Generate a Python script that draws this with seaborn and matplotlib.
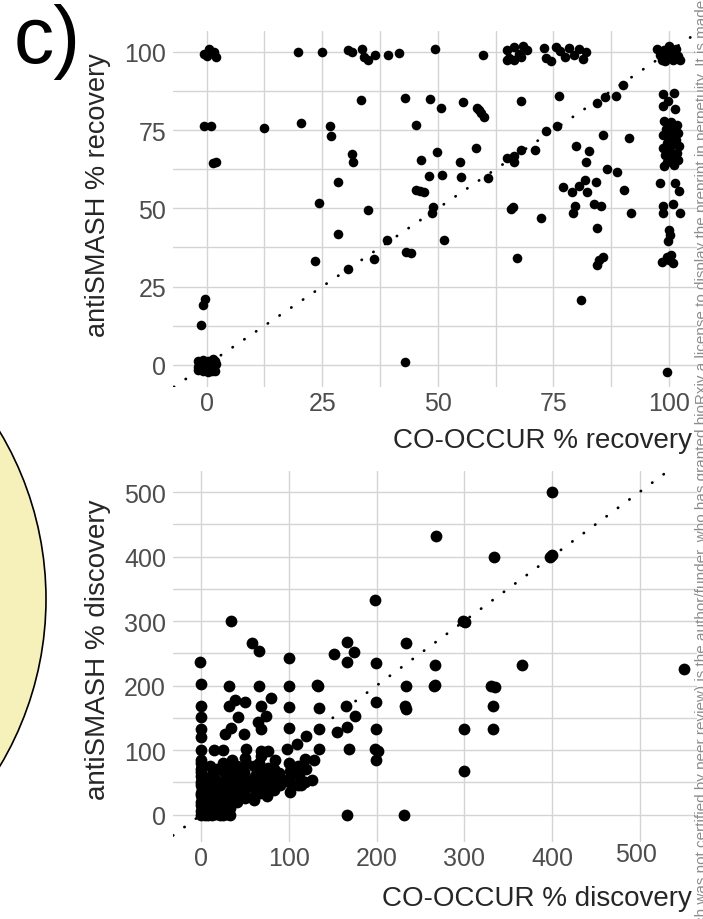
import matplotlib
matplotlib.use("Agg")
import matplotlib.pyplot as plt
from matplotlib.patches import Ellipse
from matplotlib.ticker import FixedLocator
from matplotlib.transforms import ScaledTranslation
import pandas as pd
import seaborn as sns

# ---------------- data ----------------
# recovery (%): CO-OCCUR vs antiSMASH
rec_cooccur = [
    -0.5, 0.5, 1.5, 2.0, 0.0, 19.7, 24.9, 30.6, 31.5, 33.5, 35.0, 36.5, 34.0,
    39.3, 41.7, 49.3, 59.7,
    65.0, 65.5, 66.5, 67.5, 68.5, 66.5, 68.0, 69.3, 65.0,
    73.0, 73.5, 74.5, 75.5, 76.5, 77.5, 78.5, 79.5, 80.5, 81.5, 82.0,
    97.5, 98.0, 98.5, 99.0, 99.5, 100.0, 100.5, 101.0, 101.5, 102.0, 102.5, 99.2, 100.8,
    33.3, 43.0, 48.3, 50.7, 55.5, 58.5, 59.3, 60.0, 59.0, 45.3, 68.0, 76.3, 84.5, 86.2, 88.6, 90.0,
    98.8, 101.1, 99.9, 98.8, 101.4,
    -0.6, 1.0, 12.3, 20.4, 26.7, 26.9, 1.4, 2.0, 28.4, 31.4, 31.7,
    75.8, 73.4, 71.0, 68.0, 66.4, 64.9, 66.4, 79.9, 82.8, 82.1, 85.8, 91.3,
    46.3, 49.9, 54.8, 58.3, 48.2, 50.9, 55.0, 60.9, 45.3, 47.0, 46.2,
    86.6, 88.7, 77.2, 79.0, 80.6, 81.9, 82.4, 84.3, 90.4, 98.1, 101.4, 102.1,
    99.0, 100.5, 101.8, 99.3, 100.8, 102.0, 98.8, 100.2, 101.5, 99.5, 101.0, 102.2,
    98.7, 100.3, 101.7, 99.2, 100.7, 102.0, 99.6, 101.2, 98.9, 100.1, 101.3, 99.8,
    24.3, 34.8, 49.0, 48.7, 66.2, 65.8, 72.3, 79.6, 79.2, 83.8, 85.3, 91.8, 84.5,
    98.7, 98.7, 100.8, 102.4, 100.0, 100.2, 99.9,
    28.5, 39.0, 51.4, 23.4, 36.1, 30.6, 43.2, 44.2, 67.2, 84.5, 84.9, 85.7,
    98.5, 99.5, 100.5, 101.0, 100.0, 81.0,
    -0.3, -0.9, -1.3, 43.0, 99.6,
    -1.8, -0.9, 0.2, 1.2, 1.8, -1.9, -0.6, 0.6, 1.6, -1.7, -0.3, 0.9, 1.9,
    -1.8, -0.8, 0.3, 1.3, 1.7, -0.1, -1.3, 0.7, 1.4,
]
rec_antismash = [
    99.5, 101.0, 100.0, 98.3, 98.8, 100.0, 100.0, 100.6, 100.0, 101.0, 97.5, 99.0, 98.5,
    99.0, 99.8, 100.9, 98.9,
    100.5, 98.0, 101.5, 99.5, 101.8, 97.3, 98.3, 100.5, 97.5,
    101.2, 98.0, 97.0, 101.6, 100.2, 98.3, 101.3, 99.0, 100.8, 97.8, 100.0,
    101.0, 99.0, 97.5, 100.5, 98.3, 101.8, 99.6, 97.3, 100.8, 98.7, 97.5, 97.0, 97.8,
    84.6, 85.4, 84.9, 82.2, 84.0, 82.0, 80.5, 79.3, 81.3, 76.6, 84.3, 85.9, 83.8, 85.7, 85.9, 89.4,
    86.5, 86.8, 84.3, 82.7, 81.7,
    76.2, 76.2, 75.8, 77.2, 76.4, 73.2, 64.6, 64.8, 58.5, 67.3, 64.7,
    76.4, 74.8, 68.7, 68.7, 66.8, 66.0, 64.9, 69.8, 68.3, 64.9, 73.4, 72.5,
    65.4, 68.0, 64.7, 69.2, 60.2, 60.6, 60.1, 59.6, 55.9, 55.3, 55.6,
    62.7, 61.5, 56.7, 55.3, 57.2, 59.0, 55.3, 58.5, 55.9, 58.0, 58.0, 55.6,
    78.0, 77.5, 76.5, 75.5, 74.8, 74.0, 73.5, 72.8, 72.0, 71.0, 70.5, 69.8,
    69.3, 68.5, 67.8, 67.0, 66.3, 65.5, 64.8, 64.0, 63.5, 70.0, 75.8, 76.8,
    51.8, 49.5, 50.4, 48.6, 50.4, 49.7, 46.8, 50.8, 48.6, 51.3, 50.8, 48.6, 43.8,
    50.8, 48.6, 51.3, 48.6, 43.2, 41.4, 39.5,
    41.8, 40.0, 39.9, 33.2, 33.8, 30.6, 36.0, 35.7, 34.1, 31.9, 33.5, 34.6,
    33.0, 34.5, 35.0, 32.5, 33.5, 20.6,
    21.0, 19.0, 12.8, 1.0, -2.2,
    -1.8, -2.1, -2.2, -1.9, -2.0, -0.6, -0.8, -1.0, -0.6, 0.4, 0.2, 0.6, 0.2,
    1.3, 1.6, 1.2, 1.8, 1.3, -0.5, 0.8, -1.7, 1.0,
]

# discovery (%): CO-OCCUR vs antiSMASH
disc_cooccur = [
    400, 268, 333.6, 398, 400, 198, 298.5, 301, 33.7, 58, 66, 166.4, 174.5, 165.6, 151,
    233.4, -2, 100.2, 199.7, 266.6, 366, 551,
    0, 31, 66, 99.4, 132, 133, 233.4, 266.6, 265, 330.8, 334.8,
    -1, 31, 38.6, 50, 79, 67.8, 99.4, 134, 165, 199.7, 232.5, 234, 333,
    0, 41.8, 74, 175.7,
    -1, -1, 33.7, 26.4, 48.7, 64, 68, 99.4, 134, 155, 166.4, 199.7, 299.5, 333,
    0, 14.2, 24.4, 50.7, 67.8, 76, 97.4, 109.6, 119.7, 134, 168.4, 197.6, 201, 199.7,
    299.5, 165.6, 231.3,
    0, -1, 1, 0, -1, 1, 0, -1, 1, 0, -1, 1, 0, -1, 0, 1, -1, 0,
    4, 8, 12, 17, 21, 25, 29, 33,
    10, 9, 11, 10, 9, 11, 10,
    17, 16, 18, 17, 16, 18,
    25, 24, 26, 25, 24, 26, 25,
    33, 34, 32, 33, 34, 33, 35,
    40, 41, 39, 40, 41,
    50, 49, 51, 50, 49, 51, 50,
    60, 61, 59, 60, 61, 60,
    67, 66, 68, 67, 66, 68,
    75, 76, 74, 75, 76,
    83, 84, 82, 83, 84,
    90, 91, 89,
    101.5, 100, 99.4, 101.5, 100,
    110, 113.6, 111, 110,
    118, 119, 117.7,
    126, 128,
]
disc_antismash = [
    500, 432, 400, 400, 402, 333, 300.5, 298, 300, 266, 254, 268, 251.5, 236, 249,
    266, 236, 242, 235, 232, 232, 226,
    203, 199, 200, 200, 201, 199, 199, 201, 199, 200, 198,
    168, 168, 178, 175, 181, 168, 166, 165, 168, 175, 168, 164, 168,
    151, 151, 152.5, 152.5,
    133, 120, 134, 125, 125, 143, 133, 134, 133, 128, 135, 133, 133, 133,
    100, 100, 100, 102, 99, 99, 102, 110, 122, 102, 102, 102, 98, 85,
    68, 0, 0,
    0, 5, 10, 15, 20, 25, 30, 33, 40, 45, 50, 55, 60, 66, 70, 75, 80, 85,
    0, -1, 0, 1, -1, 0, 1, 0,
    10, 20, 30, 40, 50, 60, 75,
    15, 25, 35, 45, 55, 70,
    8, 20, 33, 42, 50, 66, 80,
    10, 22, 30, 40, 55, 72, 85,
    20, 33, 48, 60, 75,
    25, 35, 45, 55, 66, 80, 88,
    22, 30, 42, 50, 60, 75,
    33, 45, 55, 66, 80, 90,
    29, 40, 50, 62, 72,
    38, 48, 60, 70, 85,
    45, 55, 65,
    35, 50, 55, 68, 80,
    45, 45, 60, 75,
    50, 70, 86,
    53, 84,
]

rec_ticks = [0, 25, 50, 75, 100]
rec_minor = [12.5, 37.5, 62.5, 87.5]
disc_ticks = [0, 100, 200, 300, 400, 500]
disc_minor = [50, 150, 250, 350, 450]

recovery = pd.DataFrame({"CO-OCCUR % recovery": rec_cooccur,
                         "antiSMASH % recovery": rec_antismash})
discovery = pd.DataFrame({"CO-OCCUR % discovery": disc_cooccur,
                          "antiSMASH % discovery": disc_antismash})

# ---------------- style ----------------
sns.set_style("white")
plt.rcParams["font.family"] = ["Liberation Sans", "DejaVu Sans"]

W, H = 703, 920
fig = plt.figure(figsize=(W / 100, H / 100), dpi=100)
fig.patch.set_facecolor("white")

GRID = "#D4D4D4"
TICK = "#4D4D4D"


def px_axes(left, right, top, bottom):
    return fig.add_axes([left / W, (H - bottom) / H, (right - left) / W, (bottom - top) / H])


def style_axes(ax, xt, yt, xminor, yminor):
    for s in ax.spines.values():
        s.set_visible(False)
    ax.xaxis.set_major_locator(FixedLocator(xt))
    ax.yaxis.set_major_locator(FixedLocator(yt))
    if xminor:
        ax.xaxis.set_minor_locator(FixedLocator(xminor))
    if yminor:
        ax.yaxis.set_minor_locator(FixedLocator(yminor))
    ax.grid(True, which="major", color=GRID, linewidth=1.0)
    ax.grid(True, which="minor", color=GRID, linewidth=1.0)
    ax.tick_params(which="both", length=0, labelsize=18, labelcolor=TICK)
    ax.tick_params(axis="y", pad=5)
    ax.tick_params(axis="x", pad=3)
    ax.set_axisbelow(True)


# ---------------- recovery panel ----------------
ax1 = px_axes(173, 697, 32, 388)
sns.scatterplot(data=recovery, x="CO-OCCUR % recovery", y="antiSMASH % recovery",
                color="black", s=48, linewidth=0, ax=ax1, zorder=3)
ax1.axline((0, 0), slope=1, color="black", linewidth=2.0,
           linestyle=(0, (0.1, 5)), dash_capstyle="round", zorder=4)
ax1.set_xlim(-7.3, 106.1)
ax1.set_ylim(-7.1, 106.7)
style_axes(ax1, rec_ticks, rec_ticks, rec_minor, rec_minor)
ax1.set_xlabel("CO-OCCUR % recovery", fontsize=20, loc="right")
ax1.set_ylabel("antiSMASH % recovery", fontsize=19.5)
ax1.xaxis.set_label_coords(1.0 - 5 / 524, -40 / 356)
ax1.yaxis.set_label_coords(-75 / 524, (388 - 195) / 356)
ax1.yaxis.label.set_va("center")

# ---------------- discovery panel ----------------
ax2 = px_axes(173, 697, 472, 843)
sns.scatterplot(data=discovery, x="CO-OCCUR % discovery", y="antiSMASH % discovery",
                color="black", s=72, linewidth=0, ax=ax2, zorder=3)
ax2.axline((0, 0), slope=1, color="black", linewidth=2.0,
           linestyle=(0, (0.1, 5)), dash_capstyle="round", zorder=4)
ax2.set_xlim(-32.5, 565.6)
ax2.set_ylim(-42.6, 532.6)
style_axes(ax2, disc_ticks, disc_ticks, None, disc_minor)
ax2.set_xlabel("CO-OCCUR % discovery", fontsize=20, loc="right")
ax2.set_ylabel("antiSMASH % discovery", fontsize=20)
ax2.xaxis.set_label_coords(1.0 - 5 / 524, -43 / 371)
ax2.yaxis.set_label_coords(-75 / 524, (843 - 650) / 371)
ax2.yaxis.label.set_va("center")

# the last bottom tick label sits a little higher and further left
last = ax2.xaxis.get_major_ticks()[-1].label1
last.set_transform(last.get_transform() + ScaledTranslation(-4 / 100, 4 / 100, fig.dpi_scale_trans))

# ---------------- decorations ----------------
fig.text(14 / W, 1 - 4 / H, "c)", fontsize=58, color="black", ha="left", va="top")

circle = Ellipse((-280 / W, (H - 600) / H), 652 / W, 652 / H,
                 transform=fig.transFigure, facecolor="#F6F1BA",
                 edgecolor="black", linewidth=1.2, zorder=0)
fig.patches.append(circle)

fig.text(695 / W, 0.5,
         "bioRxiv preprint. The copyright holder for this preprint (which was not certified "
         "by peer review) is the author/funder, who has granted bioRxiv a license to display "
         "the preprint in perpetuity. It is made available under a CC-BY-NC-ND 4.0 "
         "International license.",
         rotation=90, ha="left", va="center", fontsize=11, color="#8C8C8C")

fig.savefig("out.png", dpi=100)
